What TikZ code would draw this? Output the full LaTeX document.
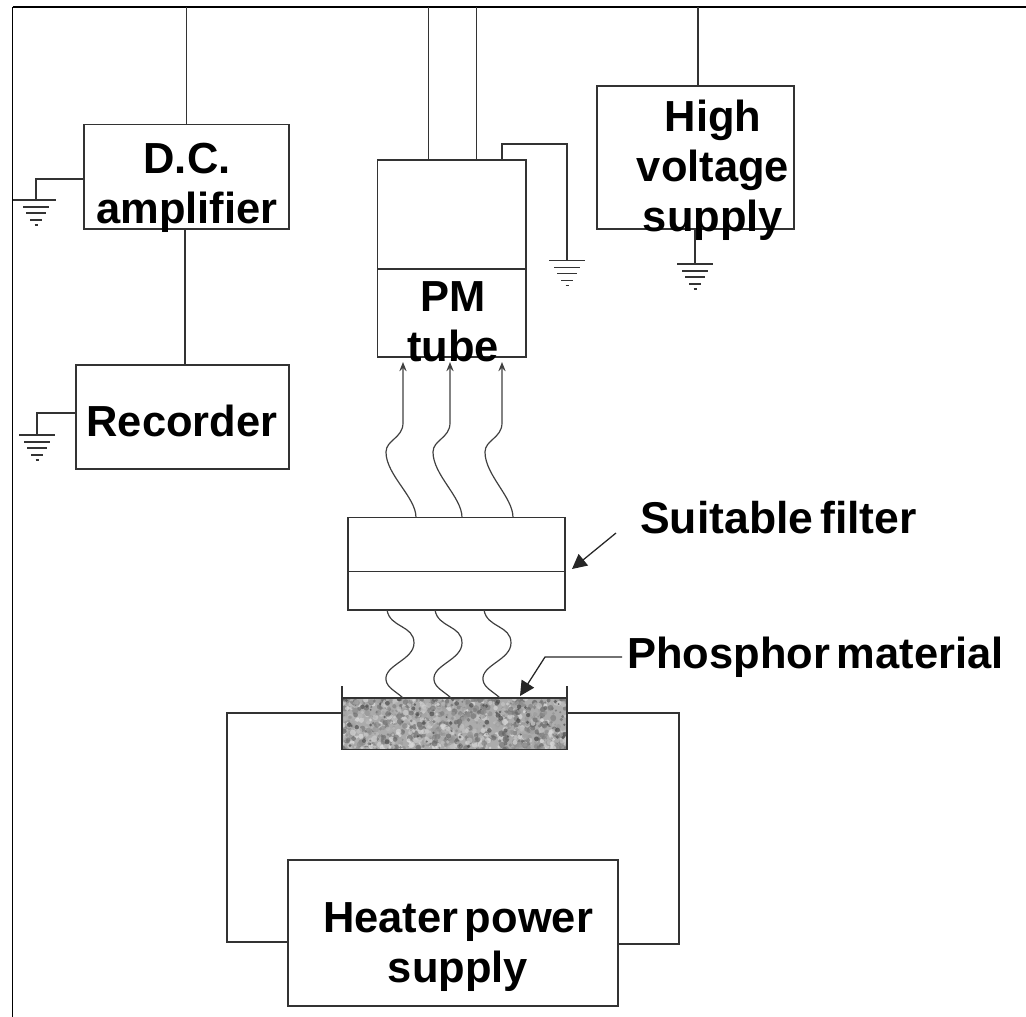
\documentclass[tikz,border=0pt]{standalone}
\usepackage{fontspec}
\setmainfont[WordSpace=0.55]{Liberation Sans}
\usetikzlibrary{arrows.meta,fit}

\begin{document}
\begin{tikzpicture}[x=0.75pt,y=-0.75pt,
                wire/.style={draw=black!80,line width=0.95pt},
                main box/.style={rectangle,draw=black!80,line width=0.95pt,inner sep=0pt,outer sep=0pt},
                main label/.style={font=\bfseries\fontsize{32.6}{37.5}\selectfont,align=center,inner sep=0pt},
                ray/.style={draw=black!75,line width=0.9pt},
                pointer/.style={-{Triangle[length=11pt,width=11pt]},draw=black!85,line width=0.95pt},
                earth/.pic={
                  \draw[wire] (-18,0) -- (18,0);
                  \draw[wire] (-13,7) -- (13,7);
                  \draw[wire] (-10,13) -- (10,13);
                  \draw[wire] (-6,20) -- (6,20);
                  \draw[wire] (-1.5,25) -- (1.5,25);
                }]

  \useasboundingbox (0,0) rectangle (1026,1017);

  \coordinate (corner) at (12.5,7);
  \draw[black,line width=1.2pt] (12.5,1017) -- (corner);
  \draw[black,line width=1.6pt] (corner) -- (1026,7);

  \node[main box,fit={(84,124.5) (289,229)}] (amp) {};
  \node[main box,fit={(76,365) (289,469)}] (rec) {};
  \node[main box,fit={(377.5,160) (526,269)}] (pm top) {};
  \node[main box,fit={(377.5,269) (526,357)}] (pm low) {};
  \node[main box,fit={(597,86) (794,229)}] (hv) {};
  \node[main box,fit={(348,517.5) (565,571.5)}] (filter top) {};
  \node[main box,fit={(348,571.5) (565,610)}] (filter low) {};
  \node[main box,fill=black!33,fit={(342,698) (567,749.5)}] (phosphor) {};
  \node[main box,fit={(288,860) (618,1006)}] (heater) {};

  % grain of the phosphor
  \begin{scope}
    \clip (phosphor.south west) rectangle (phosphor.north east);
    \pgfmathsetseed{41}
    \foreach \i in {1,...,1300} {
      \pgfmathsetmacro{\px}{342+225*rnd}
      \pgfmathsetmacro{\py}{698+52*rnd}
      \pgfmathsetmacro{\pr}{1+2.2*rnd}
      \pgfmathsetmacro{\pk}{int(12+50*rnd)}
      \fill[black!\pk,opacity=0.7] (\px,\py) circle (\pr);
    }
    \foreach \i in {1,...,70} {
      \pgfmathsetmacro{\px}{342+225*rnd}
      \pgfmathsetmacro{\py}{698+52*rnd}
      \pgfmathsetmacro{\pr}{1+1.5*rnd}
      \fill[black!70,opacity=0.7] (\px,\py) circle (\pr);
    }
  \end{scope}
  \draw[wire] (phosphor.south west) rectangle (phosphor.north east);

  % supply lines from the top rail
  \coordinate (pm a) at (428.5,160);
  \coordinate (pm b) at (476.5,160);
  \coordinate (hv a) at (698,86);
  \draw[wire] (amp.north) -- (amp.north |- corner);
  \draw[wire] (pm a) -- (pm a |- corner);
  \draw[wire] (pm b) -- (pm b |- corner);
  \draw[wire] (hv a) -- (hv a |- corner);
  \coordinate (amp down) at (185,229);
  \draw[wire] (amp down) -- (amp down |- rec.north);

  % grounds
  \coordinate (amp out) at (84,179);
  \coordinate (amp gnd) at (36,200);
  \draw[wire] (amp out) -| (amp gnd);
  \pic at (amp gnd) {earth};
  \draw[wire] (corner |- amp gnd) -- +(43.5,0);

  \coordinate (rec out) at (76,413);
  \coordinate (rec gnd) at (37,435);
  \draw[wire] (rec out) -| (rec gnd);
  \pic at (rec gnd) {earth};

  \coordinate (pm out) at (502,160);
  \coordinate (pm bend) at (567,144);
  \coordinate (pm gnd) at (567,260.5);
  \draw[wire] (pm out) |- (pm bend) -- (pm gnd);
  \pic at (pm gnd) {earth};

  \coordinate (hv out) at (695,229);
  \coordinate (hv gnd) at (695,264);
  \draw[wire] (hv out) -- (hv gnd);
  \pic at (hv gnd) {earth};

  % heater loop
  \coordinate (heat l) at (342,713);
  \coordinate (heat r) at (567,713);
  \coordinate (heat bl) at (288,942);
  \coordinate (heat br) at (618,944);
  \draw[wire] (heat l) -- (227,713) -- (227,942) -- (heat bl);
  \draw[wire] (heat r) -- (679,713) -- (679,944) -- (heat br);
  \draw[wire] (phosphor.north west) -- +(0,-12);
  \draw[wire] (phosphor.north east) -- +(0,-12);

  % light going up
  \foreach \n/\bx/\tx in {a/416/403,b/462/450,c/513/502} {
    \coordinate (ray \n) at (\bx,517.5);
    \coordinate (tip \n) at (\tx,362);
    \draw[ray,-{Stealth[length=7pt,width=5.5pt,inset=2.5pt]}] (ray \n)
      .. controls (\bx,497) and (\tx-17,475) .. (\tx-17,452)
      .. controls (\tx-17,440) and (\tx,438) .. (\tx,423) -- (tip \n);
  }
  \foreach \n/\x in {a/387,b/435,c/484} {
    \coordinate (glow \n) at (\x,610);
    \coordinate (base \n) at (\x+16,698);
    \draw[ray] (glow \n)
      .. controls (\x+3,628) and (\x+27,625) .. (\x+27,643)
      .. controls (\x+27,660) and (\x-3,665) .. (\x-1,680)
      .. controls (\x,688) and (\x+10,692) .. (base \n);
  }

  \node[main label] (amp text) at (187,188) {D.C.\\amplifier};
  \node[main label] (rec text) at (182,421) {Recorder};
  \node[main label] (pm text) at (453,322) {PM\\tube};
  \node[main label] (hv text) at (713,170) {High\\voltage\\supply};
  \node[main label] (heater text) at (458,947) {Heater power\\supply};
  \node[main label,font=\bfseries\fontsize{33.4}{37.5}\selectfont,anchor=base west] (filter text) at (640,533) {Suitable filter};
  \node[main label,anchor=base west] (phosphor text) at (627,668) {Phosphor material};

  \coordinate (filter from) at (616,533);
  \coordinate (filter to) at (572,569);
  \draw[pointer] (filter from) -- (filter to);

  \coordinate (phosphor from) at (622,657);
  \coordinate (phosphor bend) at (545,657);
  \coordinate (phosphor to) at (520,696);
  \draw[pointer] (phosphor from) -- (phosphor bend) -- (phosphor to);

\end{tikzpicture}
\end{document}
